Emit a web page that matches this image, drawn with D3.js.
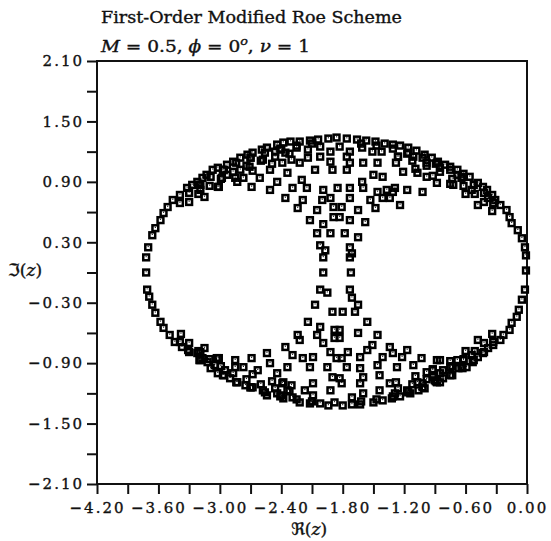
<!DOCTYPE html>
<html><head><meta charset="utf-8">
<script src="https://cdn.jsdelivr.net/npm/d3@7"></script>
<style>
body{margin:0;background:#fff;}
svg text{font-family:"DejaVu Serif","DejaVu Sans",serif;fill:#111;stroke:#111;stroke-width:0.35px;}
</style></head><body>
<svg id="chart" width="551" height="541"></svg>
<script>
// Axis ticks
const xMajor = [-4.20, -3.60, -3.00, -2.40, -1.80, -1.20, -0.60, 0.00];
const xMinor = [-3.90, -3.30, -2.70, -2.10, -1.50, -0.90, -0.30];
const yMajor = [-2.10, -1.50, -0.90, -0.30, 0.30, 0.90, 1.50, 2.10];
const yMinor = [-1.80, -1.20, -0.60, 0.00, 0.60, 1.20, 1.80];

// Eigenvalue footprint, [Re(z), Im(z)]
const ringUpper = [
[-3.72,0.00],[-3.72,0.15],[-3.70,0.25],[-3.66,0.37],[-3.63,0.44],[-3.58,0.52],[-3.55,0.59],[-3.51,0.65],
[-3.46,0.72],[-3.39,0.77],[-3.32,0.84],[-3.27,0.87],[-3.22,0.90],[-3.17,0.94],[-3.13,0.97],[-3.07,1.02],
[-3.02,1.04],[-2.93,1.07],[-2.87,1.10],[-2.80,1.14],[-2.73,1.17],[-2.68,1.19],[-2.59,1.22],[-2.54,1.24],
[-2.44,1.27],[-2.38,1.29],[-2.31,1.30],[-2.22,1.30],[-2.12,1.31],[-2.04,1.32],[-1.94,1.33],[-1.86,1.34],
[-1.76,1.33],[-1.66,1.32],[-1.57,1.31],[-1.48,1.30],[-1.39,1.28],[-1.31,1.27],[-1.24,1.26],[-1.16,1.24],
[-1.08,1.21],[-1.00,1.17],[-0.93,1.14],[-0.87,1.10],[-0.80,1.07],[-0.75,1.05],[-0.68,1.02],[-0.62,0.98],
[-0.56,0.95],[-0.48,0.89],[-0.43,0.85],[-0.39,0.82],[-0.34,0.77],[-0.31,0.72],[-0.26,0.67],[-0.20,0.62],
[-0.17,0.55],[-0.15,0.49],[-0.09,0.42],[-0.05,0.34],[-0.02,0.25],[-0.01,0.17],[-0.01,0.02]
];
const ringLower = [
[-3.71,-0.17],[-3.69,-0.24],[-3.66,-0.32],[-3.63,-0.40],[-3.58,-0.49],[-3.55,-0.55],[-3.49,-0.62],[-3.44,-0.69],
[-3.37,-0.74],[-3.31,-0.77],[-3.22,-0.80],[-3.17,-0.85],[-3.12,-0.89],[-3.05,-0.92],[-3.02,-1.00],[-2.95,-0.97],
[-2.90,-1.05],[-2.83,-1.09],[-2.75,-1.12],[-2.68,-1.14],[-2.58,-1.17],[-2.54,-1.22],[-2.44,-1.20],[-2.38,-1.25],
[-2.29,-1.24],[-2.22,-1.29],[-2.12,-1.30],[-2.02,-1.30],[-1.94,-1.32],[-1.88,-1.29],[-1.80,-1.32],[-1.71,-1.31],
[-1.63,-1.31],[-1.50,-1.29],[-1.41,-1.27],[-1.32,-1.25],[-1.24,-1.23],[-1.14,-1.20],[-1.06,-1.17],[-1.00,-1.15],
[-0.90,-1.07],[-0.82,-1.05],[-0.73,-1.02],[-0.67,-0.95],[-0.59,-0.94],[-0.53,-0.89],[-0.48,-0.84],[-0.43,-0.80],
[-0.38,-0.75],[-0.33,-0.72],[-0.26,-0.67],[-0.23,-0.62],[-0.17,-0.57],[-0.15,-0.50],[-0.10,-0.44],[-0.08,-0.37],
[-0.05,-0.27],[-0.02,-0.17]
];
// Eigenvalues packed just inside the outer ellipse
const ringMid = [
[-3.39,0.69],[-3.30,0.79],[-3.20,0.87],[-3.09,0.95],[-2.97,1.02],[-2.84,1.09],[-2.70,1.14],[-2.56,1.19],[-2.41,1.23],[-2.25,1.26],[-2.10,1.28],
[-0.33,0.69],[-0.42,0.79],[-0.52,0.87],[-0.63,0.95],[-0.75,1.02],[-0.88,1.09],[-1.02,1.14],[-1.16,1.19],[-1.31,1.23],[-1.47,1.26],[-1.62,1.28],
[-3.39,-0.69],[-3.30,-0.79],[-3.20,-0.87],[-3.09,-0.95],[-2.97,-1.02],[-2.84,-1.09],[-2.70,-1.14],[-2.56,-1.19],[-2.41,-1.23],[-2.25,-1.26],[-2.10,-1.28],
[-0.33,-0.69],[-0.42,-0.79],[-0.52,-0.87],[-0.63,-0.95],[-0.75,-1.02],[-0.88,-1.09],[-1.02,-1.14],[-1.16,-1.19],[-1.31,-1.23],[-1.47,-1.26],[-1.62,-1.28]
];
const bandUpper = [
[-3.30,0.70],[-3.21,0.78],[-3.10,0.86],[-2.99,0.93],[-2.87,1.00],[-2.74,1.06],[-2.60,1.11],[-2.46,1.15],[-2.32,1.18],
[-3.19,0.87],[-2.96,1.02],[-2.70,1.14],[-2.40,1.22],
[-3.15,0.75],[-3.01,0.85],[-2.85,0.94],[-2.68,1.01],[-2.49,1.08],[-2.30,1.12],
[-0.34,0.61],[-0.42,0.70],[-0.51,0.78],[-0.62,0.86],[-0.73,0.93],[-0.85,1.00],[-0.98,1.06],[-1.12,1.11],[-1.26,1.15],
[-0.64,0.94],[-0.89,1.08],[-1.17,1.18],
[-0.48,0.67],[-0.60,0.78],[-0.75,0.88],[-0.92,0.96],[-1.09,1.03],[-1.28,1.09]
];
const bandLower = [
[-3.38,-0.61],[-3.30,-0.70],[-3.21,-0.78],[-3.10,-0.86],[-2.99,-0.93],[-2.87,-1.00],[-2.74,-1.06],[-2.60,-1.11],
[-2.46,-1.15],[-2.32,-1.18],
[-3.19,-0.87],[-2.96,-1.02],[-2.70,-1.14],[-2.40,-1.22],
[-3.15,-0.75],[-3.01,-0.85],[-2.85,-0.94],[-2.68,-1.01],[-2.49,-1.08],[-2.30,-1.12],
[-0.34,-0.61],[-0.42,-0.70],[-0.51,-0.78],[-0.62,-0.86],[-0.73,-0.93],[-0.85,-1.00],[-0.98,-1.06],[-1.12,-1.11],[-1.26,-1.15],
[-0.64,-0.94],[-0.89,-1.08],[-1.17,-1.18],
[-0.48,-0.67],[-0.60,-0.78],[-0.75,-0.88],[-0.92,-0.96],[-1.09,-1.03],[-1.28,-1.09]
];
const innerUpper = [
[-3.19,0.82],[-3.02,0.85],[-2.98,0.94],[-2.93,0.97],[-2.83,0.90],[-2.80,1.02],[-2.77,0.94],[-2.71,1.05],
[-2.69,0.85],[-2.61,0.94],[-2.58,1.12],[-2.51,1.02],[-2.51,0.82],[-2.44,0.90],[-2.39,1.09],[-2.36,0.74],[-2.34,0.99],
[-2.46,1.20],[-2.36,1.19],[-2.25,1.24],[-2.14,1.22],[-2.02,1.25],[-1.92,1.20],[-1.83,1.25],[-1.73,1.20],
[-1.61,1.24],[-1.51,1.20],[-1.42,1.20],
[-2.22,1.09],[-2.14,1.14],[-2.02,1.15],[-1.92,1.10],[-1.76,1.15],[-1.73,1.09],[-1.60,1.09],[-1.46,1.09],
[-2.20,0.92],[-2.07,1.02],[-1.90,1.02],[-1.76,1.02],[-1.61,0.90],[-1.50,0.97],[-1.41,0.95],
[-2.29,0.84],[-2.15,0.84],[-1.99,0.82],[-1.85,0.84],[-1.73,0.84],[-1.60,0.84],[-1.46,0.80],[-1.37,0.82],
[-2.19,0.72],[-2.00,0.72],[-1.92,0.74],[-1.73,0.74],[-1.53,0.72],[-1.41,0.74],
[-2.24,0.64],[-2.05,0.62],[-1.89,0.65],[-1.81,0.65],[-1.65,0.62],[-1.48,0.64],
[-2.12,0.52],[-1.89,0.55],[-1.83,0.55],[-1.73,0.52],[-1.58,0.50],
[-1.99,0.48],
[-2.05,0.39],[-1.92,0.39],[-1.78,0.39],[-1.65,0.35],
[-2.02,0.27],[-1.97,0.22],[-1.73,0.25],[-1.71,0.19],
[-1.99,0.15],[-1.73,0.15],
[-1.26,1.15],[-1.11,1.15],[-0.98,1.09],
[-1.21,1.00],[-1.07,0.99],[-0.98,0.95],[-0.88,0.89],
[-1.29,0.84],[-1.17,0.82],[-1.02,0.80],[-1.31,0.80],
[-1.34,0.74],[-1.24,0.67],
[-0.85,1.04],[-0.72,0.87],[-0.68,0.97],[-0.54,0.82],[-0.38,0.74]
];
const innerLower = [
[-3.19,-0.79],[-3.03,-0.85],[-2.85,-0.87],[-2.77,-0.94],[-2.69,-0.85],[-2.63,-0.97],[-2.54,-0.80],[-2.51,-0.90],
[-2.44,-1.00],[-2.38,-1.09],[-2.36,-0.74],[-2.34,-0.94],
[-1.99,0.00],[-1.72,0.00],
[-2.02,-0.17],[-1.95,-0.20],[-1.73,-0.17],[-1.71,-0.25],
[-2.07,-0.32],[-1.90,-0.39],[-1.80,-0.39],[-1.68,-0.39],[-1.65,-0.32],
[-2.14,-0.49],[-2.02,-0.54],[-1.88,-0.57],[-1.83,-0.57],[-1.88,-0.65],[-1.83,-0.65],[-1.65,-0.60],[-1.56,-0.49],
[-2.24,-0.62],[-2.22,-0.67],[-2.05,-0.62],[-1.99,-0.70],[-1.92,-0.79],[-1.86,-0.85],[-1.81,-0.85],[-1.75,-0.79],
[-1.63,-0.84],[-1.56,-0.77],[-1.46,-0.62],[-1.51,-0.72],[-1.34,-0.74],[-1.31,-0.80],[-1.41,-0.84],
[-2.29,-0.82],[-2.19,-0.85],[-2.12,-0.94],[-2.09,-0.84],[-1.95,-0.94],[-1.90,-1.04],[-1.83,-1.05],[-1.76,-0.94],
[-1.63,-0.95],[-1.60,-1.04],[-1.46,-0.92],[-1.44,-1.02],[-1.27,-0.94],[-1.22,-0.84],[-1.17,-0.77],[-1.11,-0.92],
[-1.03,-0.85],[-0.98,-0.99],[-0.88,-0.87],[-0.82,-0.97],
[-2.39,-1.10],[-2.34,-1.17],[-2.17,-1.17],[-2.09,-1.10],[-2.09,-1.22],[-1.92,-1.17],[-1.81,-1.10],[-1.71,-1.24],
[-1.63,-1.10],[-1.60,-1.20],[-1.44,-1.17],[-1.34,-1.10],[-1.29,-1.20],[-1.17,-1.17],[-1.07,-1.09],[-1.02,-1.10],
[-0.92,-1.04],[-0.85,-1.09],
[-0.85,-0.87],[-0.92,-0.97],[-0.75,-0.94],[-0.68,-0.87],[-0.62,-0.87],[-0.54,-0.82]
];

const svg = d3.select("#chart");
const plotL = 97, plotR = 527, plotT = 61, plotB = 484;
const x = d3.scaleLinear().domain([-4.2, 0]).range([plotL, plotR]);
const y = d3.scaleLinear().domain([-2.1, 2.1]).range([plotB, plotT]);
const fmt = d3.format(".2f");

// Title lines
svg.append("text").attr("x", 101).attr("y", 23)
  .attr("font-size", 16).attr("textLength", 301).attr("lengthAdjust", "spacingAndGlyphs")
  .text("First-Order Modified Roe Scheme");
const sub = svg.append("text").attr("x", 101).attr("y", 52).attr("font-size", 16)
  .attr("textLength", 209).attr("lengthAdjust", "spacingAndGlyphs");
sub.append("tspan").attr("font-style", "italic").text("M");
sub.append("tspan").text(" = 0.5, ");
sub.append("tspan").attr("font-style", "italic").text("ϕ");
sub.append("tspan").text(" = 0");
sub.append("tspan").attr("font-style", "italic").attr("font-size", 11).attr("dy", -7).text("o");
sub.append("tspan").attr("dy", 7).text(", ");
sub.append("tspan").attr("font-style", "italic").text("ν");
sub.append("tspan").text(" = 1");

// Axes
const xAxis = d3.axisBottom(x).tickValues(xMajor.concat(xMinor))
  .tickSize(10).tickPadding(8).tickFormat(d => xMajor.includes(d) ? fmt(d) : "");
const yAxis = d3.axisLeft(y).tickValues(yMajor.concat(yMinor))
  .tickSize(10).tickPadding(3).tickFormat(d => yMajor.includes(d) ? fmt(d) : "");

const gx = svg.append("g").attr("transform", `translate(0,${plotB})`).call(xAxis);
const gy = svg.append("g").attr("transform", `translate(${plotL},0)`).call(yAxis);
[gx, gy].forEach(g => {
  g.select(".domain").remove();
  g.selectAll(".tick line").attr("stroke", "#111").attr("stroke-width", 2);
  g.selectAll(".tick text").attr("font-family", "DejaVu Serif").attr("font-size", 15)
    .attr("fill", "#111").style("letter-spacing", "2px");
});

// Frame
svg.append("rect").attr("x", plotL).attr("y", plotT)
  .attr("width", plotR - plotL).attr("height", plotB - plotT)
  .attr("fill", "none").attr("stroke", "#111").attr("stroke-width", 2);

// Axis titles
const xl = svg.append("text").attr("x", 309).attr("y", 535).attr("text-anchor", "middle").attr("font-size", 17);
xl.append("tspan").text("ℜ(");
xl.append("tspan").attr("font-style", "italic").text("z");
xl.append("tspan").text(")");
const yl = svg.append("text").attr("x", 8).attr("y", 276).attr("font-size", 17);
yl.append("tspan").text("ℑ(");
yl.append("tspan").attr("font-style", "italic").text("z");
yl.append("tspan").text(")");

// Markers: open squares
const pts = ringUpper.concat(ringLower, ringMid, bandUpper, bandLower, innerUpper, innerLower);
const mk = svg.append("g").selectAll("g").data(pts).join("g")
  .attr("transform", d => `translate(${x(d[0])},${y(d[1])})`);
mk.append("rect").attr("x", -2.9).attr("y", -2.9).attr("width", 5.8).attr("height", 5.8)
  .attr("fill", "none").attr("stroke", "#000").attr("stroke-width", 2.5);
mk.append("rect").attr("x", -0.6).attr("y", -1.3).attr("width", 1.2).attr("height", 1.1)
  .attr("fill", "#222");
</script>
</body></html>
